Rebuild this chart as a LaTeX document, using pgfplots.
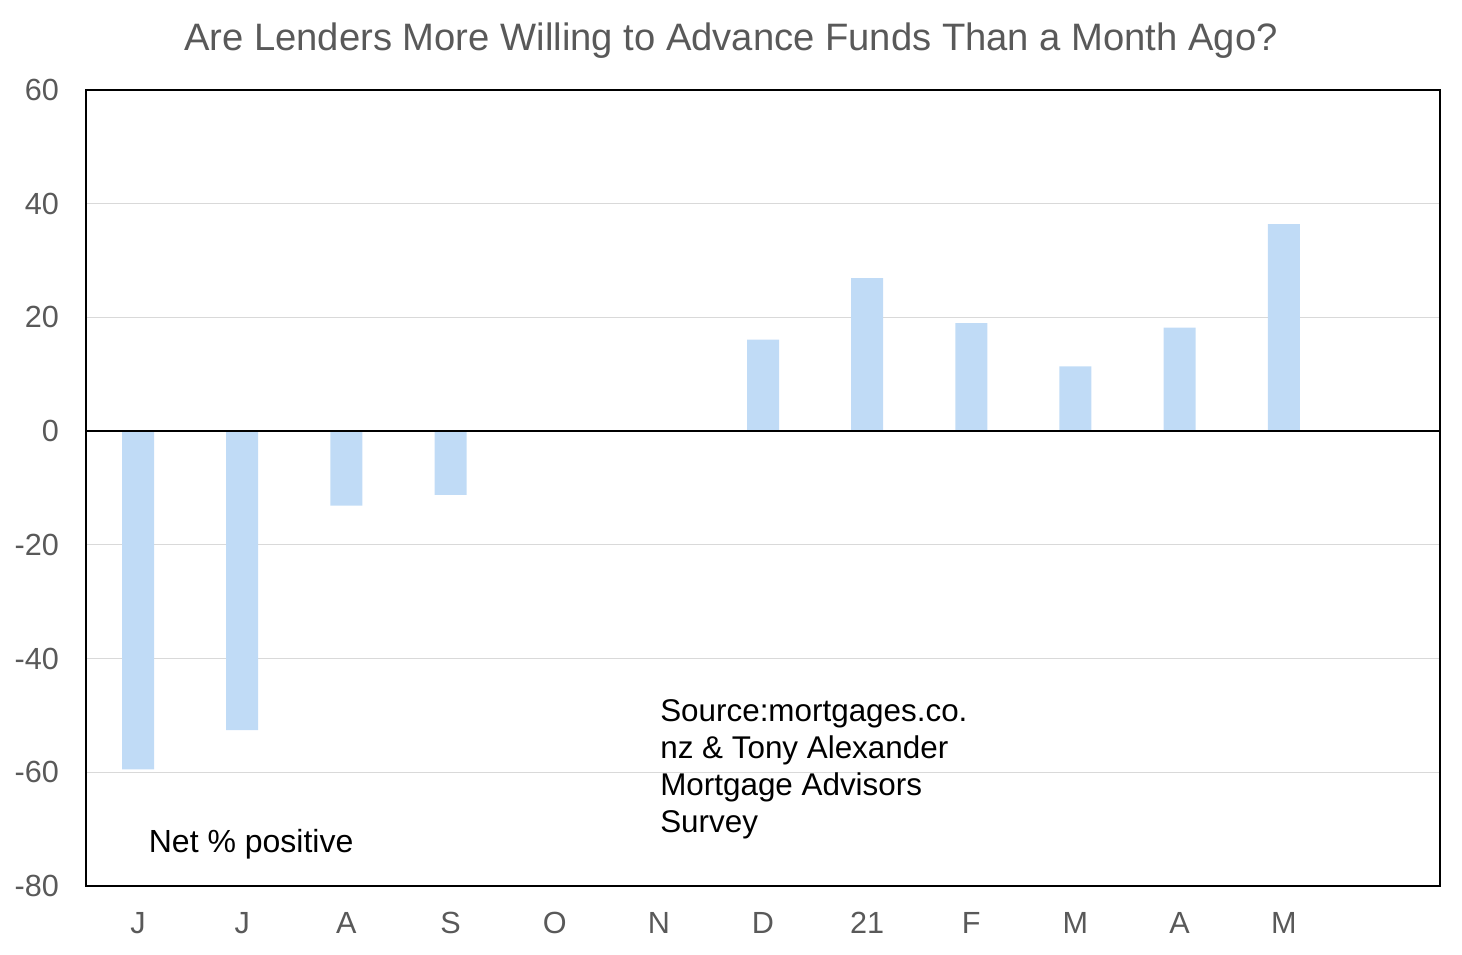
\documentclass[border=0pt]{standalone}
\usepackage{pgfplots}
\pgfplotsset{compat=1.18}
\usepackage{fontspec}
\setmainfont{Liberation Sans}
\definecolor{barblue}{RGB}{192,219,246}
\definecolor{txtgray}{RGB}{89,89,89}
\definecolor{gridgray}{RGB}{217,217,217}
\begin{document}
\begin{tikzpicture}
\begin{axis}[
  scale only axis,
  width=677pt, height=398pt,
  xmin=-0.5, xmax=12.5,
  ymin=-80, ymax=60,
  ytick={-80,-60,-40,-20,0,20,40,60},
  xtick={0,1,2,3,4,5,6,7,8,9,10,11},
  xticklabels={J,J,A,S,O,N,D,21,F,M,A,M},
  major tick length=0pt,
  ymajorgrids=true,
  grid style={gridgray, line width=0.6pt},
  axis line style={black, line width=0.8pt},
  tick label style={font=\fontsize{15.3}{18}\selectfont, text=txtgray},
  yticklabel style={xshift=-10pt},
  xticklabel style={yshift=-9.5pt},
  /pgf/number format/assume math mode=true,
  axis on top=false,
  clip=false,
]
\addplot[ybar, bar width=16pt, fill=barblue, draw=none] coordinates {
  (0,-59.5) (1,-52.6) (2,-13.1) (3,-11.2) (4,0) (5,0)
  (6,16.1) (7,26.9) (8,19.0) (9,11.4) (10,18.2) (11,36.4)
};
\draw[black, line width=0.8pt] (axis cs:-0.5,0) -- (axis cs:12.5,0);
\node[anchor=west, font=\fontsize{16}{18.5}\selectfont, inner sep=0pt] at (axis cs:0.1,-72.6) {Net \% positive};
\node[anchor=west, align=left, font=\fontsize{15.7}{18.5}\selectfont, inner sep=0pt] at (axis cs:5.01,-59.5) {Source:mortgages.co.\\nz \& Tony Alexander\\Mortgage Advisors\\Survey};
\end{axis}
\node[font=\fontsize{19.1}{22}\selectfont, text=txtgray] at ([shift={(322.5pt,24.8pt)}]current axis.north west) {Are Lenders More Willing to Advance Funds Than a Month Ago?};
\useasboundingbox ([shift={(-43pt,-34pt)}]current axis.south west) rectangle ([shift={(11pt,45pt)}]current axis.north east);
\end{tikzpicture}
\end{document}
